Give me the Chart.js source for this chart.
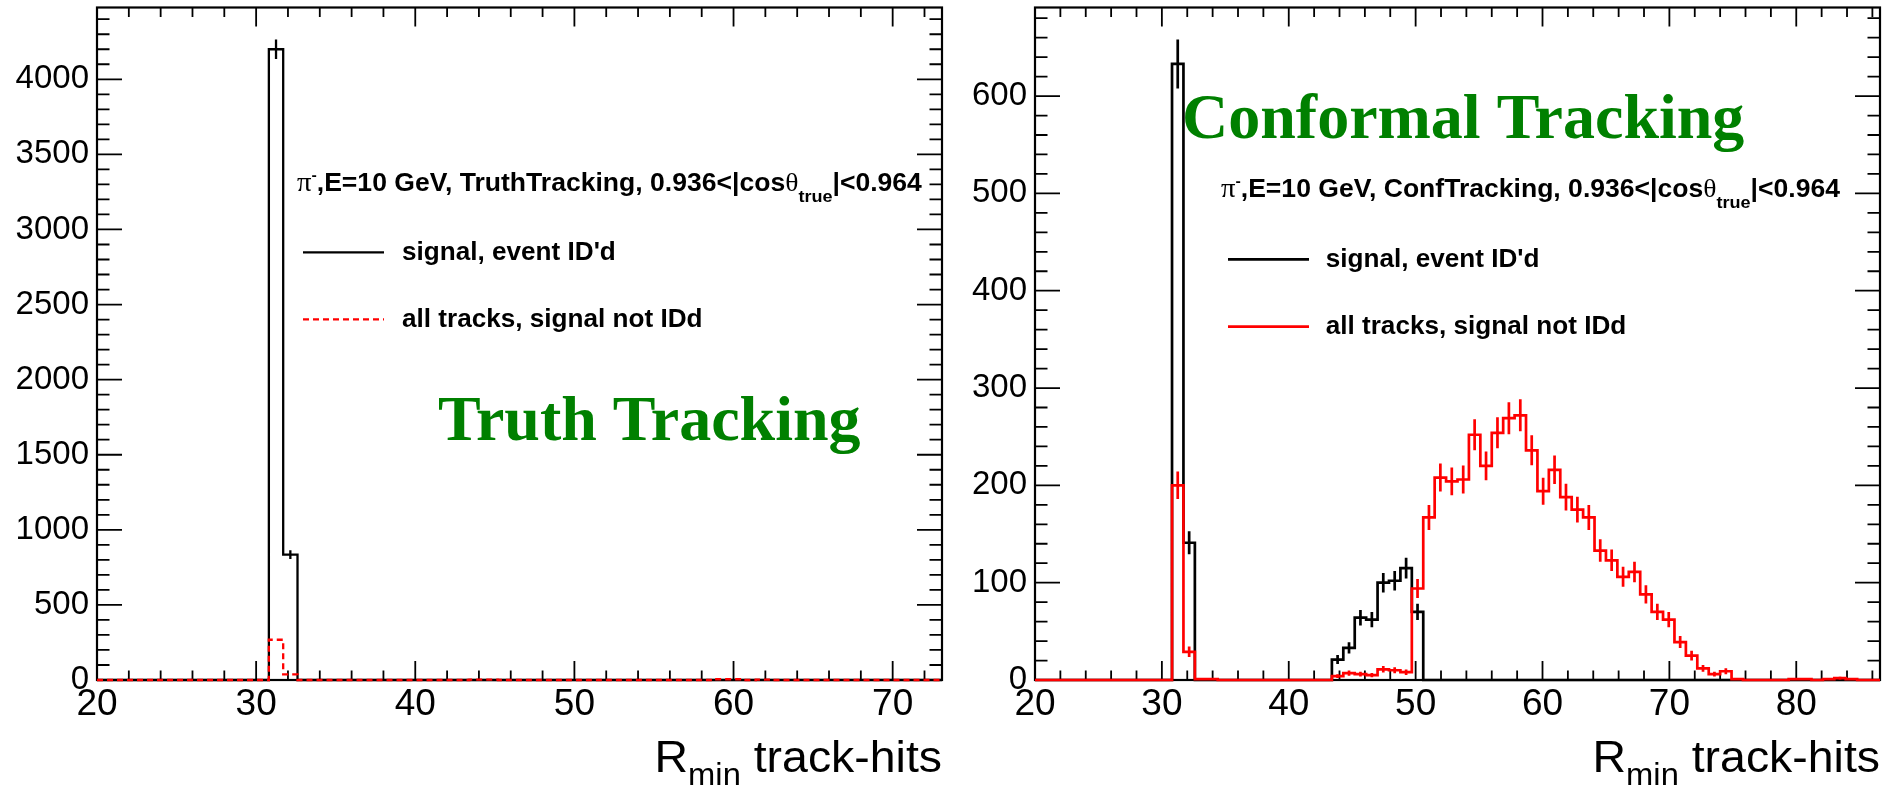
<!DOCTYPE html>
<html>
<head>
<meta charset="utf-8">
<script src="https://cdn.jsdelivr.net/npm/chart.js@4.4.1/dist/chart.umd.min.js"></script>
<style>
  html, body { margin: 0; padding: 0; background: #fff; overflow: hidden; }
  #wrap { position: relative; width: 1897px; height: 789px; background: #fff; }
  canvas { position: absolute; top: 0; }
</style>
</head>
<body>
<div id="wrap">
  <canvas id="truth" width="960" height="789" style="left:0px"></canvas>
  <canvas id="conf" width="937" height="789" style="left:960px"></canvas>
</div>
<script>
// Histogram binning of R_min (track-hits): bins of 0.9 starting at 20
const BIN_LO = 20;
const BIN_W = 0.9;

// Truth tracking: 59 bins (20 - 73.1)
const truthSignal = [
  0, 0, 0, 0, 0, 0, 0, 0, 0, 0,
  0, 0, 4200, 835, 0, 0, 0, 0, 0, 0,
  0, 0, 0, 0, 0, 0, 0, 0, 0, 0,
  0, 0, 0, 0, 0, 0, 0, 0, 0, 0,
  0, 0, 0, 0, 0, 0, 0, 0, 0, 0,
  0, 0, 0, 0, 0, 0, 0, 0, 0
];
const truthAll = [
  0, 0, 0, 0, 0, 0, 0, 0, 0, 0,
  0, 0, 268, 38, 0, 0, 0, 0, 0, 0,
  0, 0, 0, 0, 0, 0, 2, 2, 0, 0,
  0, 0, 0, 0, 0, 0, 0, 0, 0, 0,
  0, 0, 0, 5, 5, 0, 3, 0, 0, 0,
  0, 0, 0, 0, 0, 0, 0, 0, 0
];

// Conformal tracking: 74 bins (20 - 86.6)
const confSignal = [
  0, 0, 0, 0, 0, 0, 0, 0, 0, 0,
  0, 0, 633, 141, 0, 0, 0, 0, 0, 0,
  0, 0, 0, 0, 0, 0, 21, 33, 64, 62,
  100, 102, 115, 70, 0, 0, 0, 0, 0, 0,
  0, 0, 0, 0, 0, 0, 0, 0, 0, 0,
  0, 0, 0, 0, 0, 0, 0, 0, 0, 0,
  0, 0, 0, 0, 0, 0, 0, 0, 0, 0,
  0, 0, 0, 0
];
const confAll = [
  0, 0, 0, 0, 0, 0, 0, 0, 0, 0,
  0, 0, 200, 29, 1, 1, 0, 0, 0, 0,
  0, 0, 0, 0, 0, 0, 4, 7, 6, 5,
  11, 10, 8, 94, 167, 208, 204, 206, 252, 220,
  254, 269, 272, 236, 194, 216, 188, 175, 167, 133,
  123, 106, 111, 88, 70, 62, 39, 25, 12, 6,
  9, 1, 0, 0, 0, 0, 1, 1, 0, 1,
  2, 1, 0, 0
];

// Axis ranges and labelled ticks
const truthXRange = [20, 73.1];
const truthYRange = [0, 4478];
const confXRange = [20, 86.6];
const confYRange = [0, 691];

const truthXTicks = [20, 30, 40, 50, 60, 70];
const truthXLabels = ['20', '30', '40', '50', '60', '70'];
const truthYTicks = [0, 500, 1000, 1500, 2000, 2500, 3000, 3500, 4000];
const truthYLabels = ['0', '500', '1000', '1500', '2000', '2500', '3000', '3500', '4000'];

const confXTicks = [20, 30, 40, 50, 60, 70, 80];
const confXLabels = ['20', '30', '40', '50', '60', '70', '80'];
const confYTicks = [0, 100, 200, 300, 400, 500, 600];
const confYLabels = ['0', '100', '200', '300', '400', '500', '600'];

const SANS = '"Liberation Sans", Arial, Helvetica, sans-serif';
const SERIF = '"Liberation Serif", "Times New Roman", serif';
const GREEN = 'rgb(0,128,0)';

// Outline of a histogram: one point per bin low edge plus the last upper edge
function stepPoints(counts) {
  const pts = counts.map((c, i) => ({ x: BIN_LO + i * BIN_W, y: c }));
  pts.push({ x: BIN_LO + counts.length * BIN_W, y: counts[counts.length - 1] });
  return pts;
}

// Poisson error bars at the bin centres, separated by gaps
function errorPoints(counts) {
  const pts = [];
  counts.forEach((c, i) => {
    if (c > 0) {
      const xc = BIN_LO + (i + 0.5) * BIN_W;
      const e = Math.sqrt(c);
      pts.push({ x: xc, y: c - e }, { x: xc, y: c + e }, { x: xc, y: null });
    }
  });
  return pts;
}

function histDataset(label, counts, color, width, dash) {
  return {
    label, data: stepPoints(counts), stepped: true,
    borderColor: color, borderWidth: width, borderDash: dash || [],
    borderJoinStyle: 'miter', borderCapStyle: 'butt',
    pointRadius: 0, fill: false, clip: false
  };
}
function errDataset(counts, color, width) {
  return {
    label: '', data: errorPoints(counts), stepped: false, spanGaps: false,
    borderColor: color, borderWidth: width, borderCapStyle: 'butt',
    pointRadius: 0, fill: false, clip: false
  };
}

// Mixed-size text run (sub/superscripts, symbol glyphs)
function drawRich(ctx, x, y, parts, opts) {
  const sx = opts.sx || 1;
  ctx.save();
  ctx.textBaseline = 'alphabetic';
  ctx.textAlign = 'left';
  ctx.fillStyle = opts.color || '#000';
  let w = 0;
  for (const p of parts) { ctx.font = p.font; w += ctx.measureText(p.t).width; }
  ctx.translate(x, y);
  ctx.scale(sx, 1);
  let cx = opts.align === 'right' ? -w : 0;
  for (const p of parts) {
    ctx.font = p.font;
    ctx.fillText(p.t, cx, p.dy || 0);
    cx += ctx.measureText(p.t).width;
  }
  ctx.restore();
}

// Frame with inward major/minor ticks on all four sides
const rootFrame = {
  id: 'rootFrame',
  beforeDatasetsDraw(chart, args, o) {
    const { ctx, chartArea: a, scales: { x, y } } = chart;
    ctx.save();
    ctx.strokeStyle = '#000';
    ctx.lineWidth = 1.8;
    ctx.beginPath();
    for (let v = x.min; v <= x.max + 1e-9; v += o.xMinorStep) {
      const vv = Math.round(v * 1000) / 1000;
      const px = x.getPixelForValue(vv);
      const L = (Math.abs(vv % o.xMajorStep) < 1e-6) ? 19 : 9.5;
      ctx.moveTo(px, a.bottom); ctx.lineTo(px, a.bottom - L);
      ctx.moveTo(px, a.top); ctx.lineTo(px, a.top + L);
    }
    for (let v = y.min; v <= y.max + 1e-9; v += o.yMinorStep) {
      const py = y.getPixelForValue(v);
      const L = (Math.abs(v % o.yMajorStep) < 1e-6) ? 25 : 12.5;
      ctx.moveTo(a.left, py); ctx.lineTo(a.left + L, py);
      ctx.moveTo(a.right, py); ctx.lineTo(a.right - L, py);
    }
    ctx.stroke();
    ctx.lineWidth = 2.2;
    ctx.strokeRect(a.left, a.top, a.right - a.left, a.bottom - a.top);
    ctx.restore();
  }
};

// Header, legend, big label and axis title
const rootText = {
  id: 'rootText',
  afterDatasetsDraw(chart, args, o) {
    const ctx = chart.ctx;
    const ds = chart.data.datasets;
    // header line
    drawRich(ctx, o.header.x, o.header.y, [
      { t: 'π', font: '27px ' + SERIF },
      { t: '-', font: 'bold 15px ' + SANS, dy: -11 },
      { t: ',E=10 GeV, ' + o.header.method + ', 0.936<|cos', font: 'bold 25px ' + SANS },
      { t: 'θ', font: '26px ' + SERIF },
      { t: 'true', font: 'bold 17px ' + SANS, dy: 11 },
      { t: '|<0.964', font: 'bold 25px ' + SANS }
    ], { sx: 1.062 });
    // legend entries
    o.legend.forEach(en => {
      const d = ds[en.ds];
      ctx.save();
      ctx.strokeStyle = d.borderColor;
      ctx.lineWidth = d.borderWidth;
      ctx.setLineDash(d.borderDash || []);
      ctx.beginPath();
      ctx.moveTo(en.x0, en.y); ctx.lineTo(en.x1, en.y);
      ctx.stroke();
      ctx.restore();
      drawRich(ctx, en.tx, en.ty, [{ t: d.label, font: 'bold 25px ' + SANS }], { sx: 1.045 });
    });
    // method label
    drawRich(ctx, o.big.x, o.big.y, [{ t: o.big.text, font: 'bold ' + o.big.size + 'px ' + SERIF }], { color: GREEN });
    // x axis title
    drawRich(ctx, o.title.x, o.title.y, [
      { t: 'R', font: '44px ' + SANS },
      { t: 'min', font: '31px ' + SANS, dy: 13 },
      { t: ' track-hits', font: '44px ' + SANS }
    ], { sx: 1.055, align: 'right' });
  }
};

function makeChart(id, cfg) {
  return new Chart(document.getElementById(id), {
    type: 'line',
    data: { datasets: cfg.datasets },
    options: {
      responsive: false,
      animation: false,
      devicePixelRatio: 1,
      layout: { padding: { top: 7.5, right: cfg.padRight, bottom: 0, left: 0 } },
      plugins: {
        legend: { display: false },
        tooltip: { enabled: false },
        rootFrame: cfg.frame,
        rootText: cfg.text
      },
      scales: {
        x: {
          type: 'linear', bounds: 'data', min: cfg.xRange[0], max: cfg.xRange[1],
          grid: { display: false, drawTicks: false }, border: { display: false },
          ticks: {
            color: '#000', padding: 3, autoSkip: false, maxRotation: 0,
            font: { family: SANS, size: 37 },
            callback: (v, i) => cfg.xLabels[i]
          },
          afterBuildTicks: s => { s.ticks = cfg.xTicks.map(v => ({ value: v })); },
          afterFit: s => { s.height = 789 - 680; s.paddingLeft = 0; s.paddingRight = 0; }
        },
        y: {
          type: 'linear', bounds: 'data', min: cfg.yRange[0], max: cfg.yRange[1],
          grid: { display: false, drawTicks: false }, border: { display: false },
          ticks: {
            color: '#000', padding: 8, autoSkip: false,
            font: { family: SANS, size: 33 },
            callback: (v, i) => cfg.yLabels[i]
          },
          afterBuildTicks: s => { s.ticks = cfg.yTicks.map(v => ({ value: v })); },
          afterFit: s => { s.width = cfg.axisLeft; s.paddingTop = 0; s.paddingBottom = 0; }
        }
      }
    },
    plugins: [rootFrame, rootText]
  });
}

// Left: truth tracking (red drawn above black)
makeChart('truth', {
  axisLeft: 97, padRight: 960 - 942,
  xRange: truthXRange, yRange: truthYRange,
  xTicks: truthXTicks, xLabels: truthXLabels, yTicks: truthYTicks, yLabels: truthYLabels,
  datasets: [
    histDataset('all tracks, signal not IDd', truthAll, '#ff0000', 2.3, [6, 4]),
    errDataset(truthSignal, '#000', 2.3),
    histDataset("signal, event ID'd", truthSignal, '#000', 2.3)
  ],
  frame: { xMinorStep: 2, xMajorStep: 10, yMinorStep: 100, yMajorStep: 500 },
  text: {
    header: { x: 297, y: 191, method: 'TruthTracking' },
    legend: [
      { ds: 2, x0: 303, x1: 384, y: 252.3, tx: 402, ty: 259.5 },
      { ds: 0, x0: 303, x1: 384, y: 319.3, tx: 402, ty: 326.5 }
    ],
    big: { text: 'Truth Tracking', x: 438, y: 440, size: 64 },
    title: { x: 942, y: 771.5 }
  }
});

// Right: conformal tracking
makeChart('conf', {
  axisLeft: 1035 - 960, padRight: 937 - (1880 - 960),
  xRange: confXRange, yRange: confYRange,
  xTicks: confXTicks, xLabels: confXLabels, yTicks: confYTicks, yLabels: confYLabels,
  datasets: [
    errDataset(confAll, '#ff0000', 2.7),
    histDataset('all tracks, signal not IDd', confAll, '#ff0000', 2.7),
    errDataset(confSignal, '#000', 2.7),
    histDataset("signal, event ID'd", confSignal, '#000', 2.7)
  ],
  frame: { xMinorStep: 2, xMajorStep: 10, yMinorStep: 20, yMajorStep: 100 },
  text: {
    header: { x: 1221 - 960, y: 197, method: 'ConfTracking' },
    legend: [
      { ds: 3, x0: 1228 - 960, x1: 1309 - 960, y: 259.3, tx: 1325.7 - 960, ty: 266.7 },
      { ds: 1, x0: 1228 - 960, x1: 1309 - 960, y: 326.7, tx: 1325.7 - 960, ty: 334 }
    ],
    big: { text: 'Conformal Tracking', x: 1182 - 960, y: 138.3, size: 64 },
    title: { x: 1880 - 960, y: 771.5 }
  }
});
</script>
</body>
</html>
